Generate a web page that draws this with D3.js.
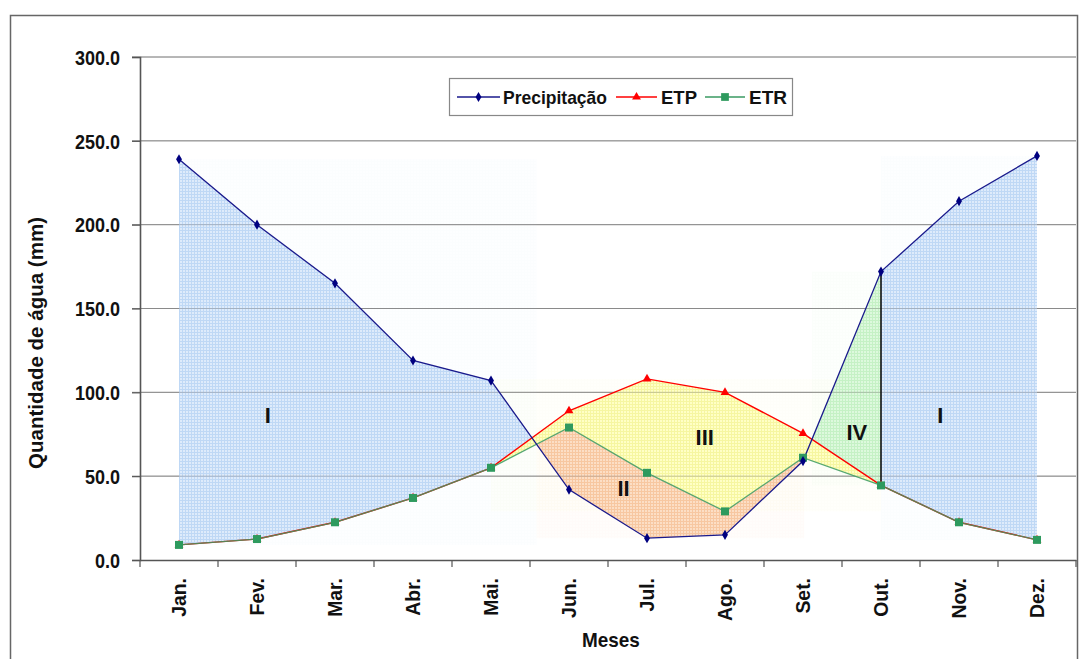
<!DOCTYPE html>
<html>
<head>
<meta charset="utf-8">
<script src="https://cdn.jsdelivr.net/npm/d3@7"></script>
<style>
html,body{margin:0;padding:0;background:#fff;}
svg{display:block;}
text{font-family:"Liberation Sans",Arial,sans-serif;font-weight:bold;fill:#111;}
</style>
</head>
<body>
<svg id="chart" width="1081" height="659"></svg>
<script>
const months = ["Jan.","Fev.","Mar.","Abr.","Mai.","Jun.","Jul.","Ago.","Set.","Out.","Nov.","Dez."];
const precip = [239, 200, 165, 119, 107, 42, 13, 15, 59, 172, 214, 241];
const etp    = [9, 12.5, 22.5, 37, 55, 89, 108, 100, 75.5, 44.5, 22.5, 12];
const etr    = [9, 12.5, 22.5, 37, 55, 79, 52, 29, 61, 44.5, 22.5, 12];
const yTicks = [0, 50, 100, 150, 200, 250, 300];
const seriesNames = ["Precipitação", "ETP", "ETR"];
const zoneLabels = ["I", "II", "III", "IV", "I"];
const zoneLabelPos = [[1.14, 86.5], [5.7, 43], [6.74, 73], [8.69, 76], [9.76, 86.5]];

const svg = d3.select("#chart");
const L = 140, R = 1076, T = 57, B = 560;

const xBand = d3.scaleBand().domain(months).range([L, R]).padding(0);
const xi = d3.scaleLinear().domain([0, 11]).range([xBand(months[0]) + xBand.bandwidth()/2, xBand(months[11]) + xBand.bandwidth()/2]);
const y = d3.scaleLinear().domain([0, 300]).range([B, T]);

function condense(sel, f) {
  sel.each(function () {
    const w = this.getComputedTextLength();
    d3.select(this).attr("textLength", w * f).attr("lengthAdjust", "spacingAndGlyphs");
  });
}

// patterns
const defs = svg.append("defs");
function pat(id, base, line) {
  const p = defs.append("pattern").attr("id", id).attr("patternUnits", "userSpaceOnUse")
    .attr("width", 3).attr("height", 3);
  p.append("rect").attr("width", 3).attr("height", 3).attr("fill", base);
  p.append("rect").attr("x", 2).attr("width", 1).attr("height", 3).attr("fill", line);
  p.append("rect").attr("y", 2).attr("width", 3).attr("height", 1).attr("fill", line);
}
pat("pBlue", "#dceafb", "#bcd6f5");
pat("pOrange", "#fcdcc2", "#f7c49c");
pat("pYellow", "#ffffc2", "#f6f69c");
pat("pGreen", "#dbf9db", "#c2f0c2");

// outer frame
svg.append("rect").attr("x", 10.5).attr("y", 15.5).attr("width", 1067).attr("height", 700)
  .attr("fill", "none").attr("stroke", "#666").attr("stroke-width", 1.5);

// gridlines (under areas)
svg.append("g").selectAll("line").data(yTicks.filter(d => d > 0)).join("line")
  .attr("x1", L - 8).attr("x2", R).attr("y1", d => y(d)).attr("y2", d => y(d))
  .attr("stroke", "#8a8a8a").attr("stroke-width", 1);

// crossing helper
function cross(a, b, i) {
  const d0 = a[i] - b[i], d1 = a[i+1] - b[i+1];
  const t = d0 / (d0 - d1);
  return [i + t, a[i] + t * (a[i+1] - a[i])];
}
const c1 = cross(precip, etr, 4);
const c2 = cross(precip, etr, 8);
const c3 = cross(precip, etp, 8);
const idx = (a, b) => d3.range(a, b + 1);

const zones = [
  { fill: "pBlue", pts: [...idx(0,4).map(i => [i, precip[i]]), c1, ...idx(0,4).reverse().map(i => [i, etr[i]])] },
  { fill: "pYellow", pts: [...idx(4,9).map(i => [i, etp[i]]), ...idx(4,9).reverse().map(i => [i, etr[i]])] },
  { fill: "pOrange", pts: [c1, ...idx(5,8).map(i => [i, etr[i]]), c2, ...idx(5,8).reverse().map(i => [i, precip[i]])] },
  { fill: "pGreen", pts: [c3, [9, precip[9]], [9, etp[9]]] },
  { fill: "pBlue", pts: [...idx(9,11).map(i => [i, precip[i]]), ...idx(9,11).reverse().map(i => [i, etr[i]])] }
];

const gZ = svg.append("g");
zones.forEach(z => {
  const xs = z.pts.map(p => xi(p[0])), ys = z.pts.map(p => y(p[1]));
  const x0 = d3.min(xs), x1 = d3.max(xs), y0 = d3.min(ys), y1 = d3.max(ys);
  gZ.append("rect").attr("x", x0).attr("y", y0).attr("width", x1 - x0).attr("height", y1 - y0)
    .attr("fill", "url(#" + z.fill + ")").attr("opacity", 0.06);
});
const line = d3.line().x(p => xi(p[0])).y(p => y(p[1]));
zones.forEach(z => {
  gZ.append("path").attr("d", line(z.pts) + "Z").attr("fill", "url(#" + z.fill + ")").attr("opacity", 0.95);
});
// gridlines faintly over areas
svg.append("g").selectAll("line").data(yTicks.filter(d => d > 0)).join("line")
  .attr("x1", L).attr("x2", R).attr("y1", d => y(d)).attr("y2", d => y(d))
  .attr("stroke", "#8a8a8a").attr("stroke-width", 1).attr("opacity", 0.45);

// axes
const yAxis = d3.axisLeft(y).tickValues(yTicks).tickSize(8).tickFormat(d3.format(".1f"));
const gy = svg.append("g").attr("transform", `translate(${L},0)`).call(yAxis);
gy.select(".domain").attr("stroke", "#555").attr("stroke-width", 1.6);
gy.selectAll(".tick line").attr("stroke", "#555").attr("stroke-width", 1.2);
gy.selectAll(".tick text").attr("x", -20).attr("dy", "0.36em")
  .style("font-family", "'Liberation Sans',Arial,sans-serif").style("font-weight", "bold")
  .style("font-size", "20px").attr("fill", "#111");
condense(gy.selectAll(".tick text"), 0.9);

const xAxis = d3.axisBottom(xBand).tickSize(0).tickFormat("");
const gx = svg.append("g").attr("transform", `translate(0,${B})`).call(xAxis);
gx.select(".domain").attr("stroke", "#555").attr("stroke-width", 1.6);
gx.selectAll(".tick").remove();
svg.append("g").selectAll("line").data(d3.range(0, 13)).join("line")
  .attr("x1", i => L + i * xBand.bandwidth()).attr("x2", i => L + i * xBand.bandwidth())
  .attr("y1", B).attr("y2", B + 7).attr("stroke", "#555").attr("stroke-width", 1.2);
const mt = svg.append("g").selectAll("text").data(months).join("text")
  .attr("transform", d => `translate(${xBand(d) + xBand.bandwidth()/2 + 7},${B + 18}) rotate(-90)`)
  .attr("text-anchor", "end").style("font-size", "20px").text(d => d);
condense(mt, 0.97);

// axis titles
svg.append("text").attr("transform", `translate(43,343) rotate(-90)`).attr("text-anchor", "middle")
  .style("font-size", "20px").attr("textLength", 252).attr("lengthAdjust", "spacingAndGlyphs")
  .text("Quantidade de água (mm)");
const ms = svg.append("text").attr("x", 611).attr("y", 647).attr("text-anchor", "middle")
  .style("font-size", "21px").text("Meses");
condense(ms, 0.9);

// series lines
const sl = d3.line().x((d, i) => xi(i)).y(d => y(d));
svg.append("path").attr("d", sl(etp)).attr("fill", "none").attr("stroke", "#ff0000").attr("stroke-width", 1.4);
svg.append("path").attr("d", sl(etr)).attr("fill", "none").attr("stroke", "#3a9a62").attr("stroke-width", 1.3).attr("opacity", 0.85);
svg.append("path").attr("d", sl(precip)).attr("fill", "none").attr("stroke", "#1a1a8c").attr("stroke-width", 1.3);

// vertical line at Out.
svg.append("line").attr("x1", xi(9)).attr("x2", xi(9)).attr("y1", y(precip[9])).attr("y2", y(etr[9]))
  .attr("stroke", "#111").attr("stroke-width", 1.6);

// markers
const sym = (type, size) => d3.symbol().type(type).size(size)();
svg.append("g").selectAll("path").data(etp).join("path")
  .attr("transform", (d, i) => `translate(${xi(i)},${y(d)})`).attr("d", sym(d3.symbolTriangle, 34)).attr("fill", "#ff0000");
svg.append("g").selectAll("path").data(etr).join("path")
  .attr("transform", (d, i) => `translate(${xi(i)},${y(d)})`).attr("d", sym(d3.symbolSquare, 64)).attr("fill", "#2e9a5e");
svg.append("g").selectAll("path").data(precip).join("path")
  .attr("transform", (d, i) => `translate(${xi(i)},${y(d)})`).attr("d", sym(d3.symbolDiamond, 30)).attr("fill", "#000080");

// zone labels
svg.append("g").selectAll("text").data(zoneLabels).join("text")
  .attr("x", (d, i) => xi(zoneLabelPos[i][0])).attr("y", (d, i) => y(zoneLabelPos[i][1]))
  .attr("text-anchor", "middle").attr("dy", "0.35em").style("font-size", "22px").text(d => d);

// legend
const lg = svg.append("g");
lg.append("rect").attr("x", 449.5).attr("y", 78.5).attr("width", 343).attr("height", 37)
  .attr("fill", "#fff").attr("stroke", "#888").attr("stroke-width", 1.2);
const legendItems = [
  { name: seriesNames[0], color: "#1a1a8c", mcolor: "#000080", x0: 457, x1: 500, tx: 503, w: 104, sym: d3.symbolDiamond, size: 30 },
  { name: seriesNames[1], color: "#ff0000", mcolor: "#ff0000", x0: 616, x1: 657, tx: 661, w: 36, sym: d3.symbolTriangle, size: 34 },
  { name: seriesNames[2], color: "#3a9a62", mcolor: "#2e9a5e", x0: 705, x1: 745, tx: 749, w: 38, sym: d3.symbolSquare, size: 60 }
];
const ly = 97;
legendItems.forEach(it => {
  lg.append("line").attr("x1", it.x0).attr("x2", it.x1).attr("y1", ly).attr("y2", ly).attr("stroke", it.color).attr("stroke-width", 1.4);
  lg.append("path").attr("transform", `translate(${(it.x0 + it.x1)/2},${ly})`).attr("d", sym(it.sym, it.size)).attr("fill", it.mcolor);
  lg.append("text").attr("x", it.tx).attr("y", ly).attr("dy", "0.36em").style("font-size", "19px")
    .attr("textLength", it.w).attr("lengthAdjust", "spacingAndGlyphs").text(it.name);
});
</script>
</body>
</html>
